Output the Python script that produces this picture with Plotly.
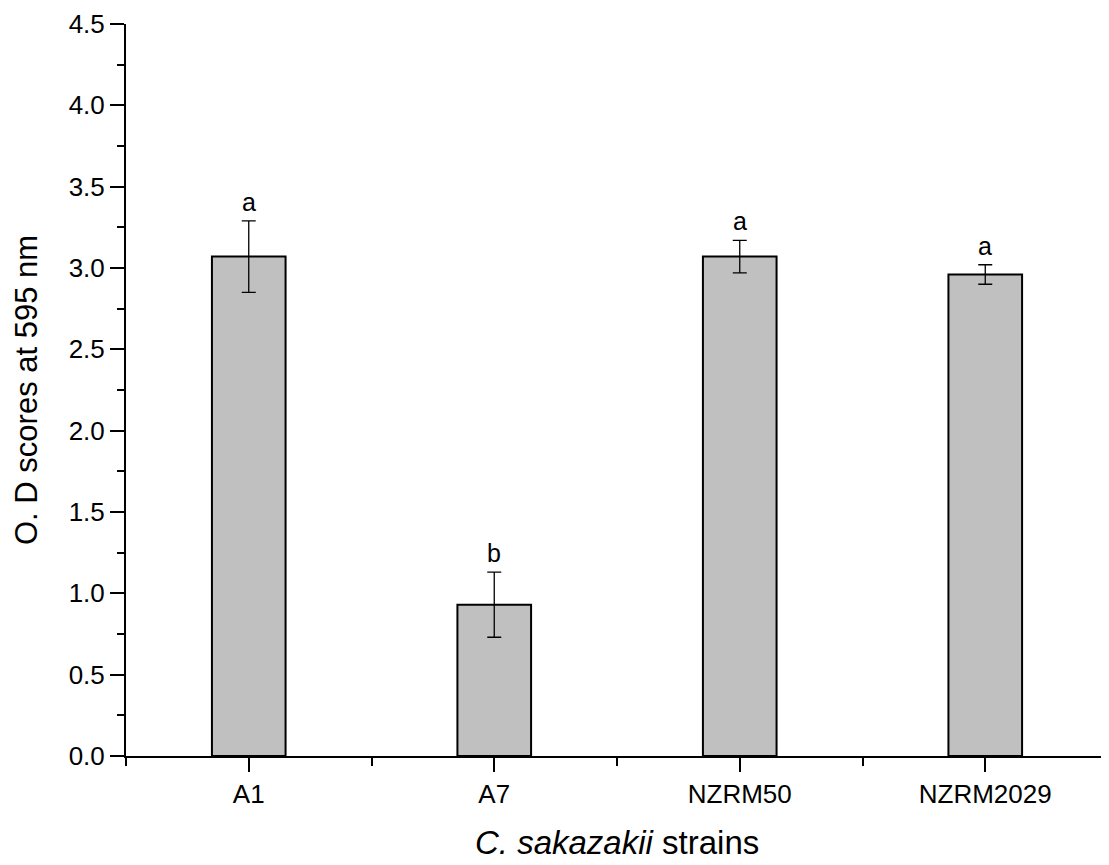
import plotly.graph_objects as go

categories = ["A1", "A7", "NZRM50", "NZRM2029"]
values = [3.07, 0.93, 3.07, 2.96]
errors = [0.22, 0.20, 0.10, 0.06]
letters = ["a", "b", "a", "a"]

FONT = "Liberation Sans, Arial, sans-serif"
xpos = list(range(len(categories)))

fig = go.Figure()
fig.add_trace(go.Bar(
    x=xpos, y=values, width=0.3,
    marker=dict(color="#c0c0c0", line=dict(color="black", width=2)),
    error_y=dict(type="data", array=errors, visible=True, color="black",
                 thickness=1.3, width=7),
    showlegend=False,
))

for xi, v, e, l in zip(xpos, values, errors, letters):
    fig.add_annotation(x=xi, y=v + e, text=l, showarrow=False,
                       yanchor="bottom", yshift=3,
                       font=dict(family=FONT, size=25, color="black"))

# page body has an 8px offset; figure placed at (8, 8)
OFF = 8
W, H = 1109 - OFF, 865 - OFF
ml, mr, mt, mb = 126 - OFF, 1, 24 - OFF, 109
pw = W - ml - mr
ph = H - mt - mb

fig.add_annotation(xref="paper", yref="paper", x=(26 - OFF - ml) / pw, y=0.5,
                   text="O. D scores at 595 nm", textangle=-90, showarrow=False,
                   xanchor="center", yanchor="middle",
                   font=dict(family=FONT, size=31, color="black"))
fig.add_annotation(xref="paper", yref="paper", x=(617 - OFF - ml) / pw,
                   y=-(842 - OFF - (mt + ph)) / ph,
                   text="<i>C. sakazakii</i> strains", showarrow=False,
                   xanchor="center", yanchor="middle",
                   font=dict(family=FONT, size=33, color="black"))

fig.update_layout(
    width=W, height=H,
    margin=dict(l=ml, r=mr, t=mt, b=mb),
    plot_bgcolor="white", paper_bgcolor="white",
    font=dict(family=FONT, size=26, color="black"),
)
fig.update_xaxes(
    range=[-0.5, 3.5], tickmode="array", tickvals=xpos, ticktext=categories,
    showline=True, linecolor="black", linewidth=2,
    ticks="outside", ticklen=14, tickwidth=2, tickcolor="black",
    minor=dict(tickmode="array", tickvals=[-0.5, 0.5, 1.5, 2.5, 3.5],
               ticks="outside", ticklen=8, tickwidth=2, tickcolor="black"),
    showgrid=False, zeroline=False,
    tickfont=dict(family=FONT, size=26),
)
fig.update_yaxes(
    range=[0, 4.5], tickmode="linear", tick0=0, dtick=0.5, tickformat=".1f",
    showline=True, linecolor="black", linewidth=2,
    ticks="outside", ticklen=14, tickwidth=2, tickcolor="black",
    minor=dict(dtick=0.25, ticks="outside", ticklen=7, tickwidth=2,
               tickcolor="black", showgrid=False),
    showgrid=False, zeroline=False,
    tickfont=dict(family=FONT, size=26),
)

fig.write_html("out.html")
